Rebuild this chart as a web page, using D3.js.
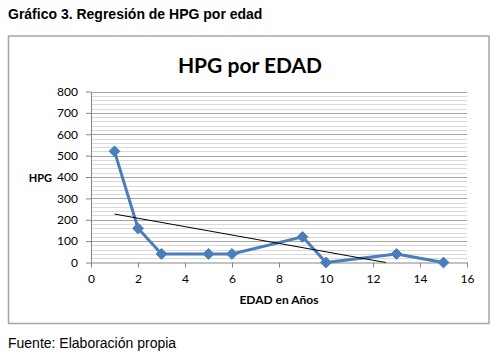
<!DOCTYPE html>
<html><head><meta charset="utf-8">
<script src="https://cdn.jsdelivr.net/npm/d3@7"></script>
<style>body{margin:0;background:#fff}svg{display:block}</style>
</head><body>
<script>
const edad = [1, 2, 3, 5, 6, 9, 10, 13, 15];
const hpg = [520, 160, 40, 40, 40, 120, 0, 40, 0];
const xTicks = [0, 2, 4, 6, 8, 10, 12, 14, 16];
const yTicks = [0, 100, 200, 300, 400, 500, 600, 700, 800];

const W = 499, H = 358;
const svg = d3.select("body").append("svg").attr("width", W).attr("height", H);

svg.append("text").attr("x", 8).attr("y", 19)
  .attr("font-family", "Liberation Sans, Arial, sans-serif").attr("font-weight", "bold")
  .attr("font-size", 14).attr("fill", "#000").text("Gráfico 3. Regresión de HPG por edad");

svg.append("rect").attr("x", 8.5).attr("y", 36).attr("width", 480.5).attr("height", 287.5)
  .attr("fill", "#fff").attr("stroke", "#a6a6a6").attr("stroke-width", 1.5);

svg.append("text").attr("x", 250).attr("y", 73).attr("text-anchor", "middle")
  .attr("font-family", "Lato, 'Open Sans', sans-serif").attr("font-weight", "bold")
  .attr("font-size", 21).attr("fill", "#000").text("HPG por EDAD");

const x = d3.scaleLinear().domain([0, 16]).range([91, 467]);
const y = d3.scaleLinear().domain([0, 800]).range([262.5, 91.5]);

const g = svg.append("g");
g.selectAll("line.minor").data(d3.range(0, 801, 20).filter(v => v % 100 !== 0)).enter()
  .append("line").attr("x1", x(0)).attr("x2", x(16))
  .attr("y1", d => Math.round(y(d)) + 0.5).attr("y2", d => Math.round(y(d)) + 0.5)
  .attr("stroke", "#d9d9d9").attr("stroke-width", 1);
g.selectAll("line.major").data(yTicks.filter(v => v > 0)).enter()
  .append("line").attr("x1", x(0)).attr("x2", x(16))
  .attr("y1", d => Math.round(y(d)) + 0.5).attr("y2", d => Math.round(y(d)) + 0.5)
  .attr("stroke", "#a6a6a6").attr("stroke-width", 1);

const fontTick = "Lato, 'Open Sans', sans-serif";
const yAxis = svg.append("g").attr("transform", `translate(${x(0)},0)`)
  .call(d3.axisLeft(y).tickValues(yTicks).tickSize(5).tickSizeOuter(0));
const xAxis = svg.append("g").attr("transform", `translate(0,${y(0)})`)
  .call(d3.axisBottom(x).tickValues(xTicks).tickSize(5).tickSizeOuter(0));
[yAxis, xAxis].forEach(a => {
  a.selectAll("path,line").attr("stroke", "#868686");
  a.selectAll("text").attr("font-family", fontTick).attr("font-size", 12).attr("fill", "#000");
});
yAxis.selectAll("text").attr("x", -13);
xAxis.selectAll("text").attr("dy", "1.05em");

svg.append("text").attr("x", 52).attr("y", 182).attr("text-anchor", "end")
  .attr("font-family", fontTick).attr("font-weight", "bold").attr("font-size", 11).text("HPG");
svg.append("text").attr("x", 279).attr("y", 304).attr("text-anchor", "middle")
  .attr("font-family", fontTick).attr("font-weight", "bold").attr("font-size", 12).text("EDAD en Años");

const pts = edad.map((e, i) => [e, hpg[i]]);
svg.append("path").datum(pts)
  .attr("d", d3.line().x(d => x(d[0])).y(d => y(d[1])))
  .attr("fill", "none").attr("stroke", "#4a7ebb").attr("stroke-width", 3).attr("stroke-linejoin", "round");

// linear trendline (least squares on the data)
const mx = d3.mean(edad), my = d3.mean(hpg);
const sxy = d3.sum(edad, (e, i) => (e - mx) * (hpg[i] - my));
const sxx = d3.sum(edad, e => (e - mx) * (e - mx));
const slope = sxy / sxx, icpt = my - slope * mx;
const x0 = d3.min(edad), xEnd = Math.min(d3.max(edad), -icpt / slope);
svg.append("line").attr("x1", x(x0)).attr("y1", y(icpt + slope * x0))
  .attr("x2", x(xEnd)).attr("y2", y(icpt + slope * xEnd))
  .attr("stroke", "#000").attr("stroke-width", 1);

svg.selectAll("path.mk").data(pts).enter().append("path")
  .attr("d", d3.symbol().type(d3.symbolDiamond2).size(75))
  .attr("transform", d => `translate(${x(d[0])},${y(d[1])})`)
  .attr("fill", "#4a7ebb").attr("stroke", "#4a7ebb").attr("stroke-width", 1);

svg.append("text").attr("x", 8).attr("y", 348)
  .attr("font-family", "Liberation Sans, Arial, sans-serif")
  .attr("font-size", 14).attr("fill", "#000").text("Fuente: Elaboración propia");
</script>
</body></html>
